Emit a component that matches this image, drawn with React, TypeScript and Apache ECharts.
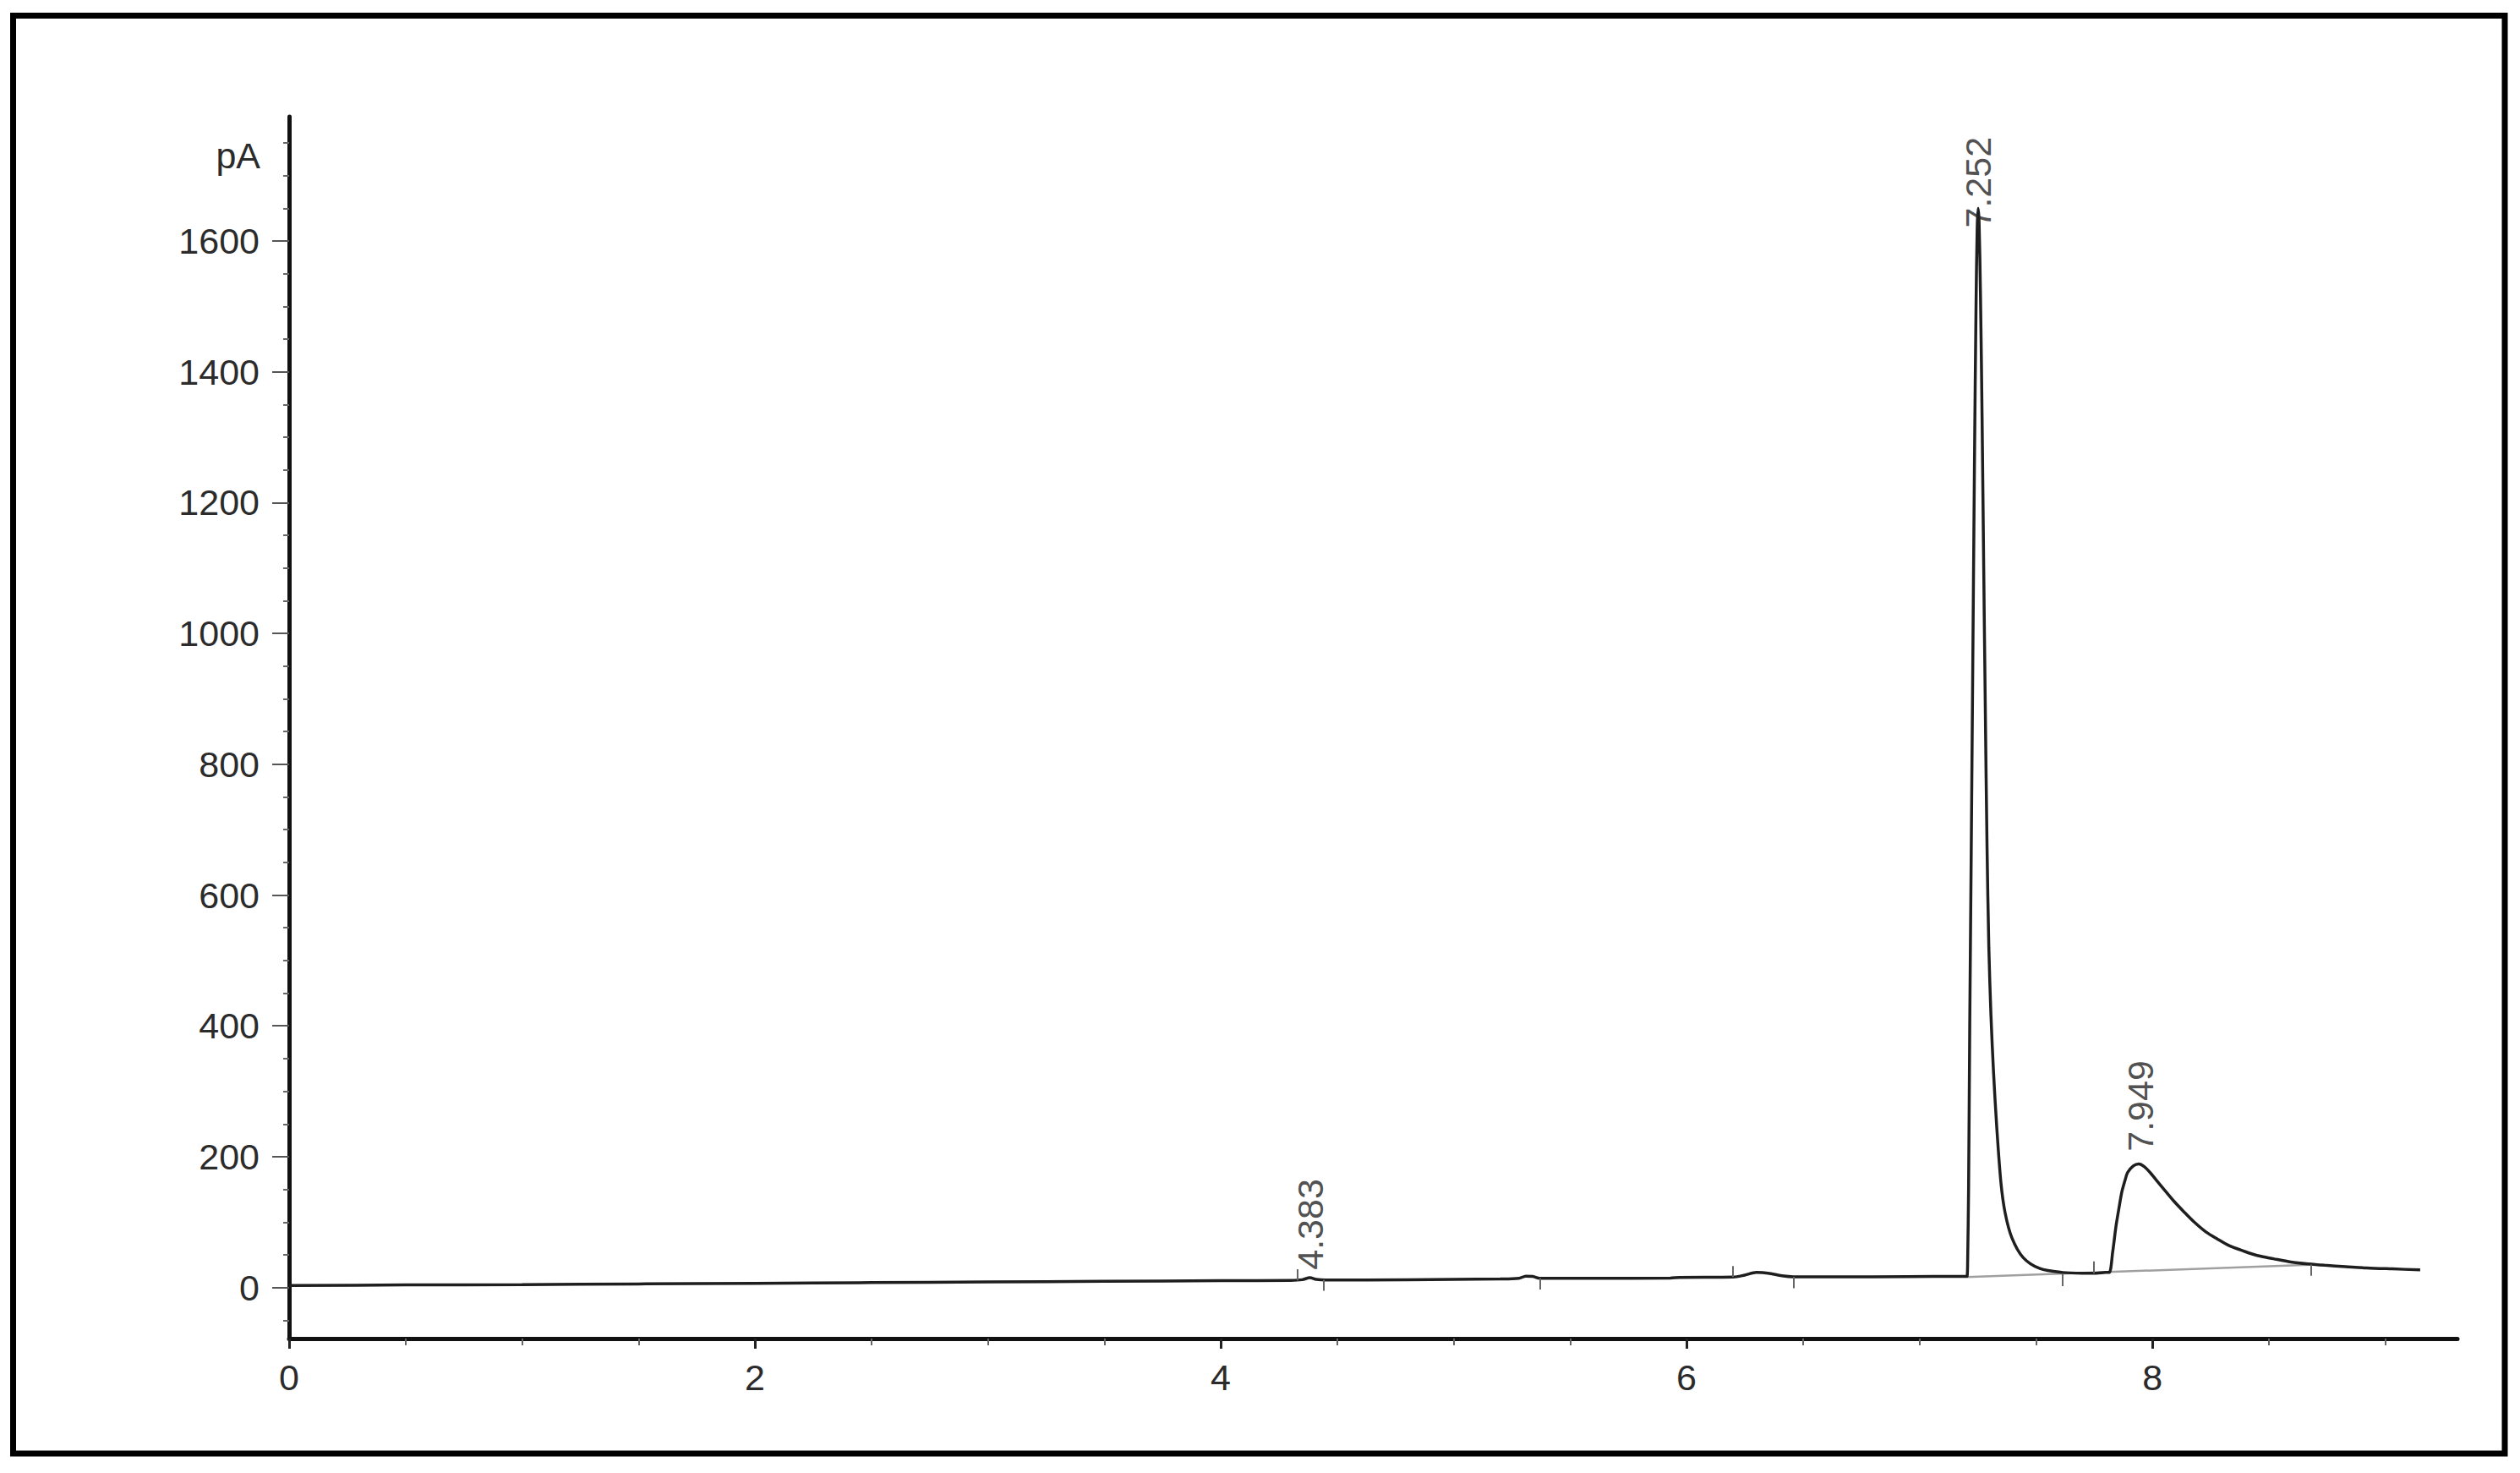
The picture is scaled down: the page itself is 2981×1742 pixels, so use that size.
import React, { useEffect, useRef } from 'react';
import * as echarts from 'echarts';

const FONT = '"Liberation Sans", Arial, Helvetica, sans-serif';

// retention time (min) vs signal (pA)
const baselineTrace: [number, number][] = [
  [0, 3], [0.5, 4], [1, 4.5], [1.5, 5.5], [2, 6.5], [2.5, 7.5], [3, 8.5], [3.5, 9.5],
  [4, 10.5], [4.3, 11], [4.35, 12], [4.383, 15], [4.41, 12.5], [4.45, 11.5], [4.8, 12],
  [5.2, 13], [5.28, 14], [5.31, 17.5], [5.34, 17], [5.37, 14], [5.6, 14], [5.93, 14.5],
  [5.97, 15.5], [6.2, 16], [6.25, 19], [6.3, 23], [6.35, 22], [6.41, 18], [6.46, 16.5],
  [6.8, 16.5], [7.1, 17], [7.2, 17],
];
const peak1Trace: [number, number][] = [
  [7.205, 18], [7.207, 40], [7.211, 150], [7.216, 400], [7.222, 650], [7.229, 950],
  [7.236, 1250], [7.243, 1500], [7.248, 1620], [7.252, 1650], [7.256, 1630], [7.262, 1520],
  [7.269, 1330], [7.276, 1100], [7.283, 880], [7.29, 680], [7.298, 520], [7.307, 417],
  [7.318, 330], [7.332, 245], [7.35, 160], [7.368, 114], [7.397, 76], [7.445, 46],
  [7.517, 29], [7.615, 23], [7.7, 22], [7.76, 22], [7.8, 23],
];
const peak2Trace: [number, number][] = [
  [7.815, 23], [7.83, 55], [7.844, 94], [7.857, 122], [7.869, 146], [7.882, 163],
  [7.894, 176], [7.918, 186], [7.942, 189], [7.965, 185], [7.99, 176], [8.02, 163],
  [8.05, 150], [8.09, 133], [8.135, 116], [8.18, 100], [8.23, 85], [8.28, 74], [8.33, 64],
  [8.39, 56], [8.45, 49], [8.52, 44], [8.595, 39], [8.67, 36], [8.74, 34], [8.83, 32],
  [8.92, 30], [9.03, 28.5], [9.15, 27],
];

// integration baseline drawn under the late peaks
const integrationBaseline: [number, number][] = [[7.205, 16], [8.7, 35]];

// small peak start / end markers on the trace
const markerTicks: [[number, number], [number, number]][] = [
  [[4.33, 11], [4.33, 28]],
  [[4.44, 12], [4.44, -5]],
  [[5.37, 14], [5.37, -3]],
  [[6.2, 16], [6.2, 33]],
  [[6.46, 16.5], [6.46, -1]],
  [[7.615, 21], [7.615, 2]],
  [[7.75, 22], [7.75, 40]],
  [[8.68, 35], [8.68, 18]],
];

// retention-time labels (text, x, y where the rotated label starts)
const peakLabelText = ['4.383', '7.252', '7.949'];
const peakLabelX = [4.383, 7.252, 7.949];
const peakLabelY = [27, 1620, 208];

const xMajorTicks = [0, 2, 4, 6, 8];
const xMinorTicks = [0.5, 1, 1.5, 2.5, 3, 3.5, 4.5, 5, 5.5, 6.5, 7, 7.5, 8.5, 9];
const yMajorTicks = [0, 200, 400, 600, 800, 1000, 1200, 1400, 1600];
const yMinorTicks = [
  -50, 50, 100, 150, 250, 300, 350, 450, 500, 550, 650, 700, 750, 850, 900, 950,
  1050, 1100, 1150, 1250, 1300, 1350, 1450, 1500, 1550, 1650, 1700, 1750,
];

const X_MIN = 0;
const X_MAX = 9.31;
const Y_MIN = -78;
const Y_MAX = 1790;

export default function App() {
  const ref = useRef<HTMLDivElement>(null);

  useEffect(() => {
    if (!ref.current) return;
    const chart = echarts.init(ref.current, null, { renderer: 'svg' });
    const trace = [...baselineTrace, ...peak1Trace, ...peak2Trace];

    const axisFont = { fontSize: 43, fontFamily: FONT, color: '#2b2b2b' };
    const plain = (v: number) => String(v);

    const option: any = {
      animation: false,
      backgroundColor: '#ffffff',
      grid: { left: 342, top: 138, right: 74, bottom: 159, containLabel: false },
      xAxis: [
        {
          type: 'value',
          min: X_MIN,
          max: X_MAX,
          position: 'bottom',
          axisLine: { show: true, onZero: false, lineStyle: { color: '#111', width: 5 } },
          axisTick: { show: true, customValues: xMajorTicks, length: 12, lineStyle: { color: '#222', width: 3 } },
          axisLabel: { show: true, customValues: xMajorTicks, margin: 24, formatter: plain, ...axisFont },
          splitLine: { show: false },
        },
        {
          type: 'value',
          min: X_MIN,
          max: X_MAX,
          position: 'bottom',
          axisLine: { show: false, onZero: false },
          axisTick: { show: true, customValues: xMinorTicks, length: 8, lineStyle: { color: '#666', width: 2 } },
          axisLabel: { show: false },
          splitLine: { show: false },
        },
      ],
      yAxis: [
        {
          type: 'value',
          min: Y_MIN,
          max: Y_MAX,
          position: 'left',
          axisLine: { show: true, onZero: false, lineStyle: { color: '#111', width: 5 } },
          axisTick: { show: true, customValues: yMajorTicks, length: 20, lineStyle: { color: '#555', width: 2 } },
          axisLabel: {
            show: true,
            customValues: yMajorTicks,
            margin: 35,
            padding: [0, 0, 12, 0],
            formatter: plain,
            ...axisFont,
          },
          splitLine: { show: false },
        },
        {
          type: 'value',
          min: Y_MIN,
          max: Y_MAX,
          position: 'left',
          axisLine: { show: false, onZero: false },
          axisTick: { show: true, customValues: yMinorTicks, length: 7, lineStyle: { color: '#666', width: 2 } },
          axisLabel: { show: false },
          splitLine: { show: false },
        },
      ],
      series: [
        {
          name: 'baseline',
          type: 'line',
          xAxisIndex: 0,
          yAxisIndex: 0,
          data: integrationBaseline,
          showSymbol: false,
          lineStyle: { color: '#a0a0a0', width: 2.5 },
          z: 1,
          silent: true,
        },
        {
          name: 'signal',
          type: 'line',
          xAxisIndex: 0,
          yAxisIndex: 0,
          data: trace,
          showSymbol: false,
          smooth: 0.3,
          lineStyle: { color: '#1e1e1e', width: 3.5 },
          z: 3,
          markLine: {
            silent: true,
            animation: false,
            symbol: ['none', 'none'],
            label: { show: false },
            lineStyle: { color: '#666', width: 2, type: 'solid' },
            data: markerTicks.map(([a, b]) => [{ coord: a }, { coord: b }]),
          },
        },
        {
          name: 'labels',
          type: 'scatter',
          xAxisIndex: 0,
          yAxisIndex: 0,
          symbolSize: 1,
          itemStyle: { color: 'transparent' },
          data: peakLabelText.map((t, i) => ({ name: t, value: [peakLabelX[i], peakLabelY[i]] })),
          label: {
            show: true,
            formatter: '{b}',
            position: 'inside',
            rotate: 90,
            align: 'left',
            verticalAlign: 'middle',
            fontSize: 43,
            fontFamily: FONT,
            color: '#222',
          },
          z: 5,
          silent: true,
        },
      ],
      graphic: [
        {
          type: 'rect',
          silent: true,
          z: 100,
          shape: { x: 15.5, y: 18.5, width: 2947.5, height: 1700.5 },
          style: { fill: 'none', stroke: '#000', lineWidth: 7 },
        },
        {
          type: 'text',
          silent: true,
          z: 100,
          x: 308,
          y: 184,
          style: {
            text: 'pA',
            fill: '#2b2b2b',
            font: `43px ${FONT}`,
            align: 'right',
            verticalAlign: 'middle',
          },
        },
      ],
    };

    chart.setOption(option);
    return () => chart.dispose();
  }, []);

  return (
    <div
      ref={ref}
      style={{ position: 'absolute', left: 0, top: 0, width: 2981, height: 1742, background: '#fff' }}
    />
  );
}
